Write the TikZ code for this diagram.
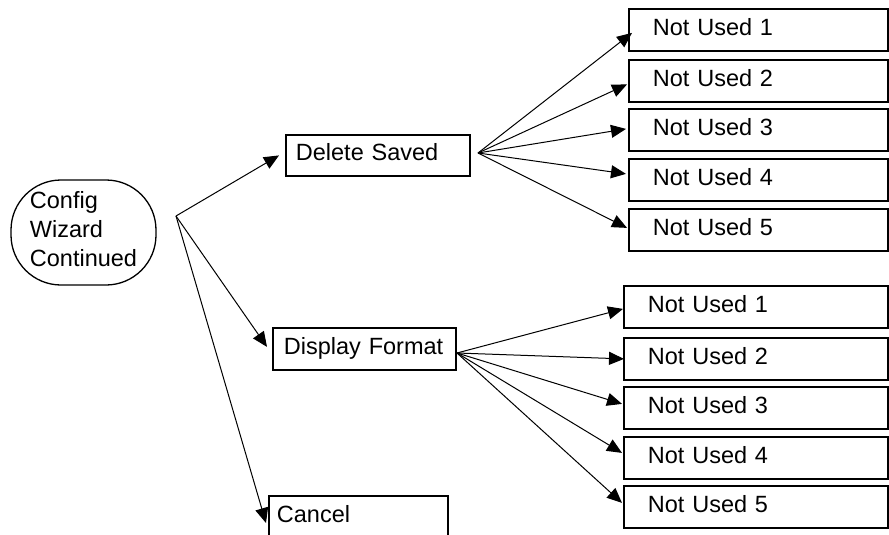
\documentclass[tikz,border=0pt]{standalone}
\usepackage{fontspec}
\setmainfont{Liberation Sans}
\usetikzlibrary{arrows.meta,calc}
\newcommand\fsz{\fontsize{23.5}{29}\selectfont}
\begin{document}
\begin{tikzpicture}[x=1pt,y=-1pt,
  box/.style={draw, line width=1.8pt, rectangle, anchor=north west, align=left, inner ysep=0pt, font=\fsz, text depth=6pt},
  tbox/.style={box, minimum width=259pt, minimum height=42pt, inner xsep=24pt, text width=211pt},
  bbox/.style={box, minimum width=264pt, minimum height=42pt, inner xsep=24pt, text width=216pt},
  conn/.style={line width=1pt, -{Triangle[length=15pt,width=13pt]}}]
\clip (0,0) rectangle (889,535);
% root
\node[draw, line width=1.3pt, rounded corners=50pt, minimum width=145pt, minimum height=105pt,
      align=left, font=\fsz, inner sep=0pt, text depth=8pt] (cw) at (83.5,232.5) {Config\\Wizard\\Continued};
% middle
\node[box, minimum width=184pt, minimum height=41pt, inner xsep=10pt, text width=164pt] (ds) at (285,134) {Delete Saved};
\node[box, minimum width=183pt, minimum height=42pt, inner xsep=11pt, text width=161pt] (df) at (272,327) {Display Format};
\node[box, minimum width=179pt, minimum height=42pt, inner xsep=8pt, text width=163pt] (cn) at (268,495) {Cancel};
% top right
\node[tbox] (t1) at (628,8) {Not Used 1};
\node[tbox] (t2) at (628,59) {Not Used 2};
\node[tbox] (t3) at (628,108) {Not Used 3};
\node[tbox] (t4) at (628,158) {Not Used 4};
\node[tbox] (t5) at (628,208) {Not Used 5};
% bottom right
\node[bbox] (b1) at (623,285) {Not Used 1};
\node[bbox] (b2) at (623,337) {Not Used 2};
\node[bbox] (b3) at (623,386) {Not Used 3};
\node[bbox] (b4) at (623,436) {Not Used 4};
\node[bbox] (b5) at (623,485) {Not Used 5};
% connectors
\coordinate (a0) at (176,216);
\draw[conn] (a0) -- ($(ds.west)+(-6,0)$);
\draw[conn] (a0) -- ($(df.west)+(-5,-2)$);
\draw[conn] (a0) -- ($(cn.north west)+(-2,28)$);
\coordinate (a1) at (478,153);
\draw[conn] (a1) -- ($(t1.west)+(4,3)$);
\draw[conn] (a1) -- ($(t2.west)+(-1,3.5)$);
\draw[conn] (a1) -- ($(t3.west)+(-2,-1)$);
\draw[conn] (a1) -- ($(t4.west)+(-2,-6)$);
\draw[conn] (a1) -- ($(t5.west)+(-1,-2)$);
\coordinate (a2) at (457,353);
\draw[conn] (a2) -- ($(b1.west)+(0,2)$);
\draw[conn] (a2) -- ($(b2.west)+(1,0)$);
\draw[conn] (a2) -- ($(b3.west)+(-1,-4)$);
\draw[conn] (a2) -- ($(b4.west)+(-1,-5)$);
\draw[conn] (a2) -- ($(b5.west)+(-1,-4)$);
\end{tikzpicture}
\end{document}
